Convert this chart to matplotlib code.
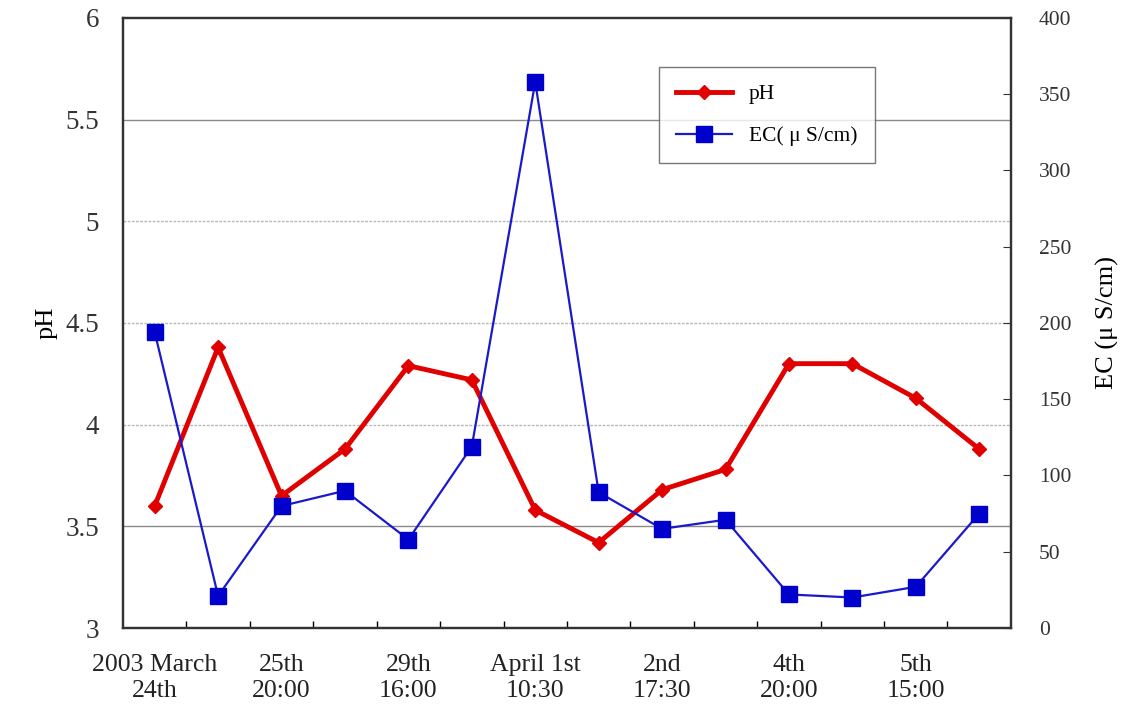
import matplotlib
matplotlib.use("Agg")
from matplotlib import pyplot as plt

plt.rcParams['font.family'] = ['Liberation Serif', 'DejaVu Serif']

# data
ph = [3.60, 4.38, 3.65, 3.88, 4.29, 4.22, 3.58, 3.42, 3.68, 3.78, 4.30, 4.30, 4.13, 3.88]
ec = [194, 21, 80, 90, 58, 119, 358, 89, 65, 71, 22, 20, 27, 75]
label_pos = [0, 2, 4, 6, 8, 10, 12]
labels = ["2003 March\n24th", "25th\n20:00", "29th\n16:00", "April 1st\n10:30",
          "2nd\n17:30", "4th\n20:00", "5th\n15:00"]

x = list(range(len(ph)))

fig = plt.figure(figsize=(11.24, 7.16), dpi=100)
ax = fig.add_axes([0.1094, 0.1229, 0.79, 0.852])

# gridlines on the pH axis
for g in [3.5, 4, 4.5, 5, 5.5]:
    if g in (3.5, 5.5):
        ax.axhline(g, color='#8a8a8a', lw=1.0, zorder=0)
    else:
        ax.axhline(g, color='#b8b8b8', lw=1.0, ls=(0, (2, 1)), zorder=0)

l1, = ax.plot(x, ph, color='#e00000', lw=3.5, marker='D', markersize=7,
              label='pH', zorder=3)
ax.set_ylim(3, 6)
ax.set_yticks([3, 3.5, 4, 4.5, 5, 5.5, 6])
ax.set_yticklabels(['3', '3.5', '4', '4.5', '5', '5.5', '6'])
ax.set_xlim(-0.5, 13.5)
ax.set_xticks(label_pos)
ax.set_xticklabels(labels, linespacing=1.2)
ax.set_xticks([i + 0.5 for i in range(13)], minor=True)
ax.tick_params(axis='x', which='major', length=0, labelsize=18.5, pad=19, colors='#222222')
ax.tick_params(axis='x', which='minor', direction='in', length=5, width=1)
ax.tick_params(axis='y', length=0, labelsize=19.5, pad=17, colors='#333333')
ax.set_ylabel('pH', fontsize=19, labelpad=6)
for s in ax.spines.values():
    s.set_linewidth(1.6)
    s.set_color('#333333')

ax2 = ax.twinx()
l2, = ax2.plot(x, ec, color='#1a1acc', lw=1.6, marker='s', markersize=11,
               markerfacecolor='#0000cc', markeredgecolor='#0000cc', label='EC( μ S/cm)', zorder=4)
ax2.set_ylim(0, 400)
ax2.set_yticks(range(0, 401, 50))
ax2.tick_params(axis='y', direction='in', length=6, labelsize=15.5, pad=20, colors='#333333')
ax2.set_ylabel('EC (μ S/cm)', fontsize=19, labelpad=18)
for s in ax2.spines.values():
    s.set_linewidth(1.6)
    s.set_color('#333333')

leg = ax2.legend(handles=[l1, l2], loc='upper left', bbox_to_anchor=(0.591, 0.937),
                 fontsize=15.5, frameon=True, fancybox=False, edgecolor='#555555',
                 borderpad=0.8, labelspacing=1.0, handlelength=2.6)
leg.get_frame().set_linewidth(1.0)

fig.savefig('out.png', dpi=100)
